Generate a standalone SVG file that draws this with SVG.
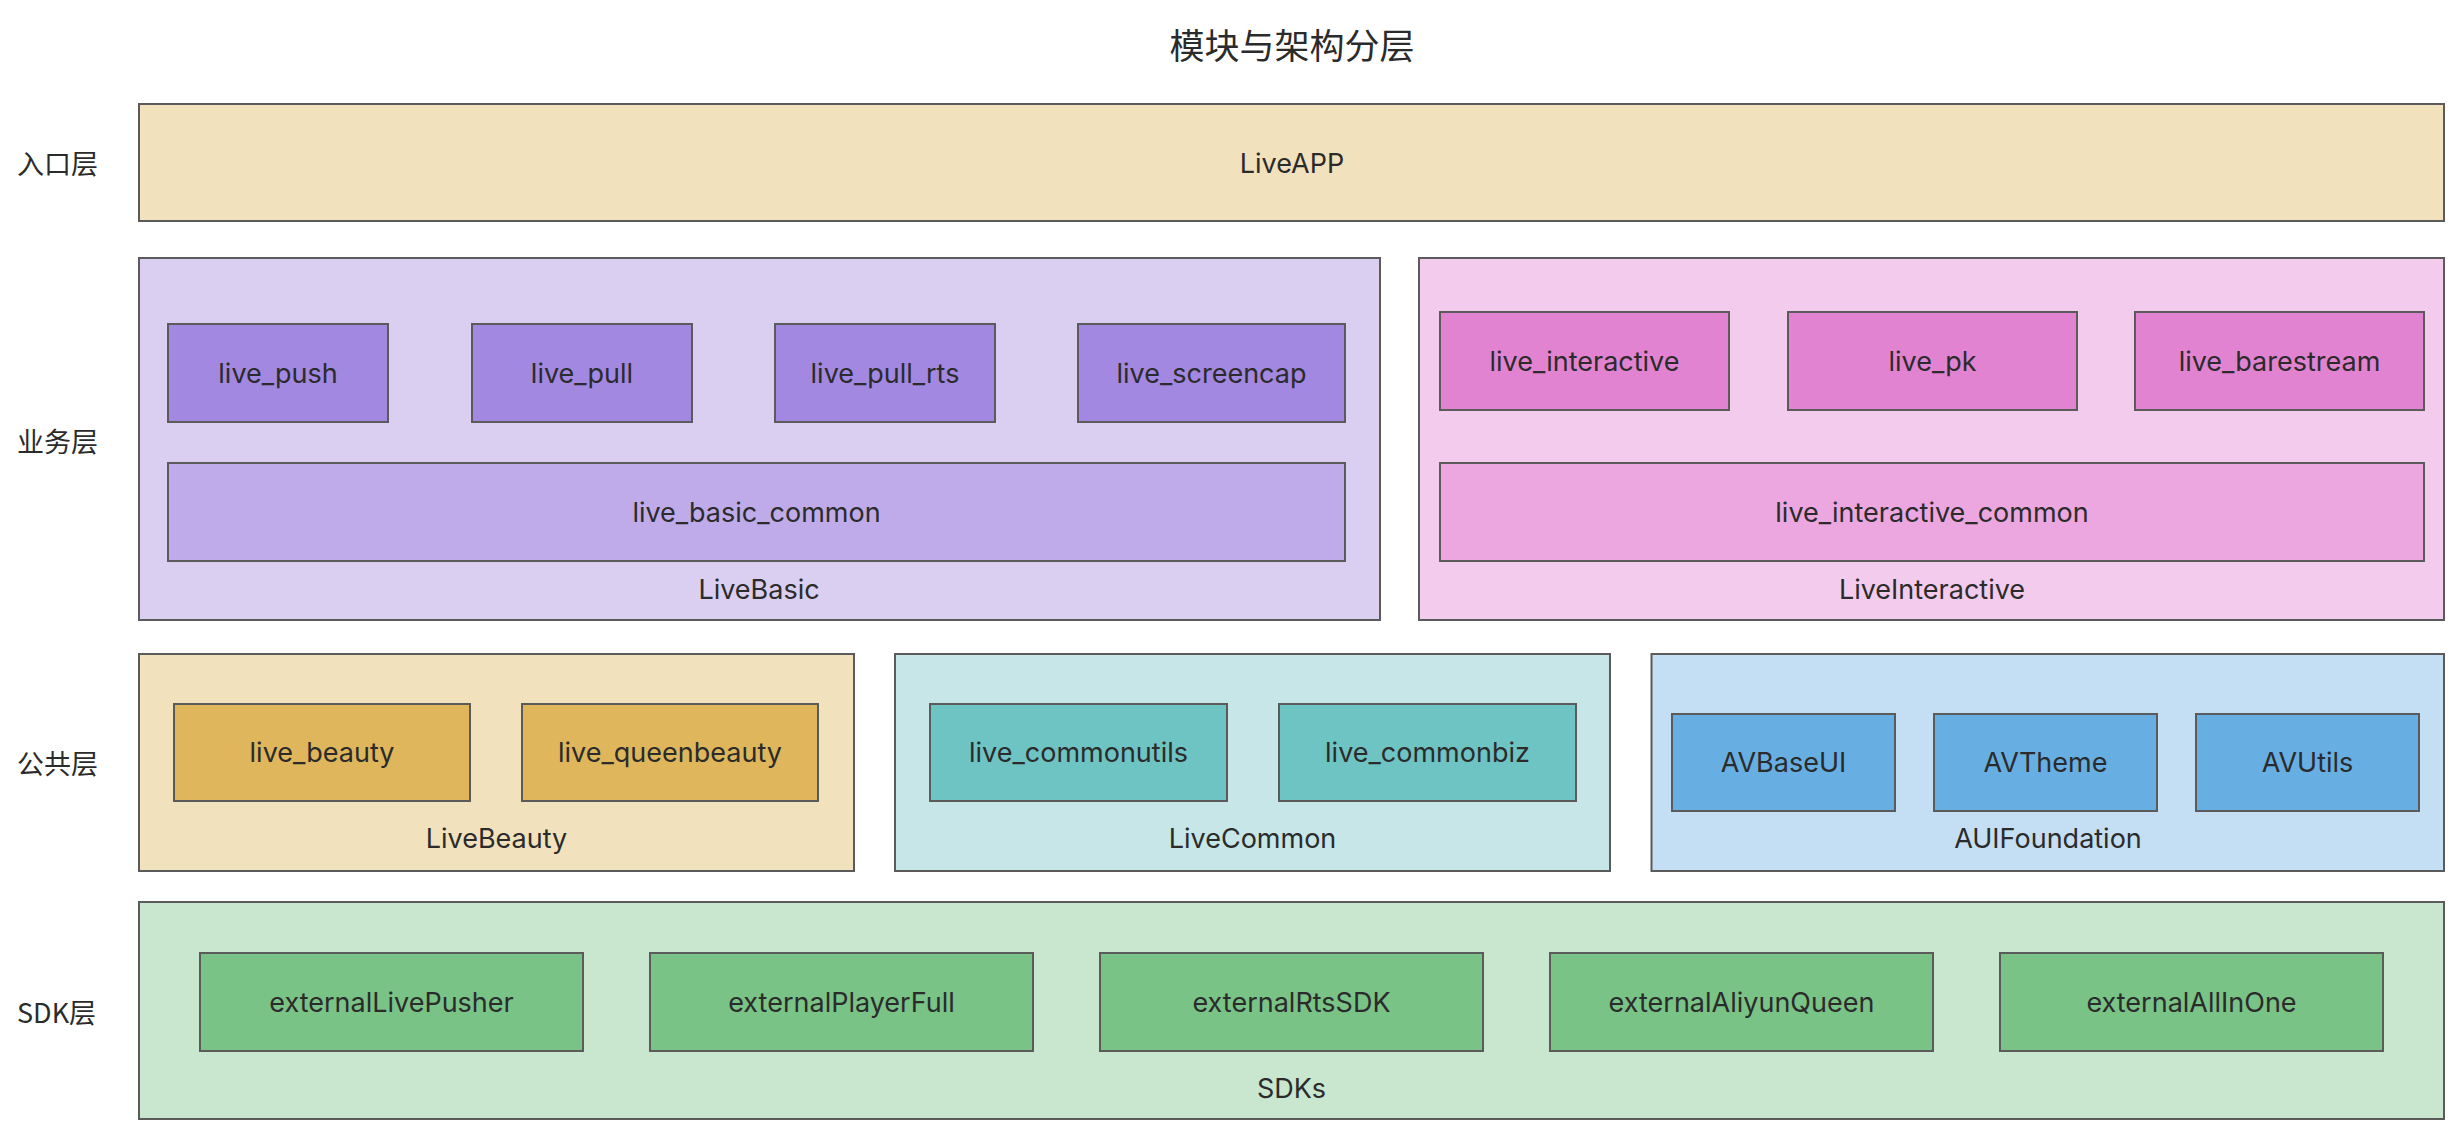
<svg xmlns="http://www.w3.org/2000/svg" width="2458" height="1126" viewBox="0 0 2458 1126">
<style>
  rect { stroke: #5b5b5b; stroke-width: 2; }
  text { font-family: Inter, "Liberation Sans", "Noto Sans CJK SC", sans-serif; font-size: 27px; fill: #2b2b2b; text-anchor: middle; dominant-baseline: central; }
  .cjk { font-family: "Noto Sans CJK SC", sans-serif; }
  .title { font-size: 35px; }
  .layer { font-size: 27px; text-anchor: start; }
  .app { fill: #f1e1bd; }
  .basicC { fill: #dbcff1; } .basicN { fill: #a288e0; } .basicM { fill: #bfabea; }
  .interC { fill: #f3cbec; } .interN { fill: #e283d1; } .interM { fill: #eca7e0; }
  .beautyC { fill: #f1e1bd; } .beautyN { fill: #dfb65c; }
  .commonC { fill: #c6e6e7; } .commonN { fill: #6ec3c3; }
  .auiC { fill: #c4dff3; } .auiN { fill: #67afe3; }
  .sdkC { fill: #c9e6ce; } .sdkN { fill: #79c387; }
</style>
<rect x="0" y="0" width="2458" height="1126" style="fill:#ffffff;stroke:none"/>
<text class="cjk title" x="1292" y="43">模块与架构分层</text>

<g id="layer-labels">
  <text class="cjk layer" x="17" y="162">入口层</text>
  <text class="cjk layer" x="17" y="440">业务层</text>
  <text class="cjk layer" x="17" y="762">公共层</text>
  <text class="cjk layer" x="17" y="1011">SDK层</text>
</g>

<g id="LiveAPP">
  <rect class="app" x="139" y="104" width="2305" height="117"/>
  <text x="1292" y="163">LiveAPP</text>
</g>

<g id="LiveBasic">
  <rect class="basicC" x="139" y="258" width="1241" height="362"/>
  <text x="759" y="589">LiveBasic</text>
</g>
<g id="live_push"><rect class="basicN" x="168" y="324" width="220" height="98"/><text x="278" y="373">live_push</text></g>
<g id="live_pull"><rect class="basicN" x="472" y="324" width="220" height="98"/><text x="582" y="373">live_pull</text></g>
<g id="live_pull_rts"><rect class="basicN" x="775" y="324" width="220" height="98"/><text x="885" y="373">live_pull_rts</text></g>
<g id="live_screencap"><rect class="basicN" x="1078" y="324" width="267" height="98"/><text x="1211.5" y="373">live_screencap</text></g>
<g id="live_basic_common"><rect class="basicM" x="168" y="463" width="1177" height="98"/><text x="756.5" y="512">live_basic_common</text></g>

<g id="LiveInteractive">
  <rect class="interC" x="1419" y="258" width="1025" height="362"/>
  <text x="1932" y="589">LiveInteractive</text>
</g>
<g id="live_interactive"><rect class="interN" x="1440" y="312" width="289" height="98"/><text x="1584.5" y="361">live_interactive</text></g>
<g id="live_pk"><rect class="interN" x="1788" y="312" width="289" height="98"/><text x="1932.5" y="361">live_pk</text></g>
<g id="live_barestream"><rect class="interN" x="2135" y="312" width="289" height="98"/><text x="2279.5" y="361">live_barestream</text></g>
<g id="live_interactive_common"><rect class="interM" x="1440" y="463" width="984" height="98"/><text x="1932" y="512">live_interactive_common</text></g>

<g id="LiveBeauty">
  <rect class="beautyC" x="139" y="654" width="715" height="217"/>
  <text x="496.5" y="838">LiveBeauty</text>
</g>
<g id="live_beauty"><rect class="beautyN" x="174" y="704" width="296" height="97"/><text x="322" y="752.5">live_beauty</text></g>
<g id="live_queenbeauty"><rect class="beautyN" x="522" y="704" width="296" height="97"/><text x="670" y="752.5">live_queenbeauty</text></g>

<g id="LiveCommon">
  <rect class="commonC" x="895" y="654" width="715" height="217"/>
  <text x="1252.5" y="838">LiveCommon</text>
</g>
<g id="live_commonutils"><rect class="commonN" x="930" y="704" width="297" height="97"/><text x="1078.5" y="752.5">live_commonutils</text></g>
<g id="live_commonbiz"><rect class="commonN" x="1279" y="704" width="297" height="97"/><text x="1427.5" y="752.5">live_commonbiz</text></g>

<g id="AUIFoundation">
  <rect class="auiC" x="1651.5" y="654" width="792.5" height="217"/>
  <text x="2048" y="838">AUIFoundation</text>
</g>
<g id="AVBaseUI"><rect class="auiN" x="1672" y="714" width="223" height="97"/><text x="1783.5" y="762.5">AVBaseUI</text></g>
<g id="AVTheme"><rect class="auiN" x="1934" y="714" width="223" height="97"/><text x="2045.5" y="762.5">AVTheme</text></g>
<g id="AVUtils"><rect class="auiN" x="2196" y="714" width="223" height="97"/><text x="2307.5" y="762.5">AVUtils</text></g>

<g id="SDKs">
  <rect class="sdkC" x="139" y="902" width="2305" height="217"/>
  <text x="1291.5" y="1088">SDKs</text>
</g>
<g id="externalLivePusher"><rect class="sdkN" x="200" y="953" width="383" height="98"/><text x="391.5" y="1002">externalLivePusher</text></g>
<g id="externalPlayerFull"><rect class="sdkN" x="650" y="953" width="383" height="98"/><text x="841.5" y="1002">externalPlayerFull</text></g>
<g id="externalRtsSDK"><rect class="sdkN" x="1100" y="953" width="383" height="98"/><text x="1291.5" y="1002">externalRtsSDK</text></g>
<g id="externalAliyunQueen"><rect class="sdkN" x="1550" y="953" width="383" height="98"/><text x="1741.5" y="1002">externalAliyunQueen</text></g>
<g id="externalAllInOne"><rect class="sdkN" x="2000" y="953" width="383" height="98"/><text x="2191.5" y="1002">externalAllInOne</text></g>

<g id="connectors"></g>
</svg>
